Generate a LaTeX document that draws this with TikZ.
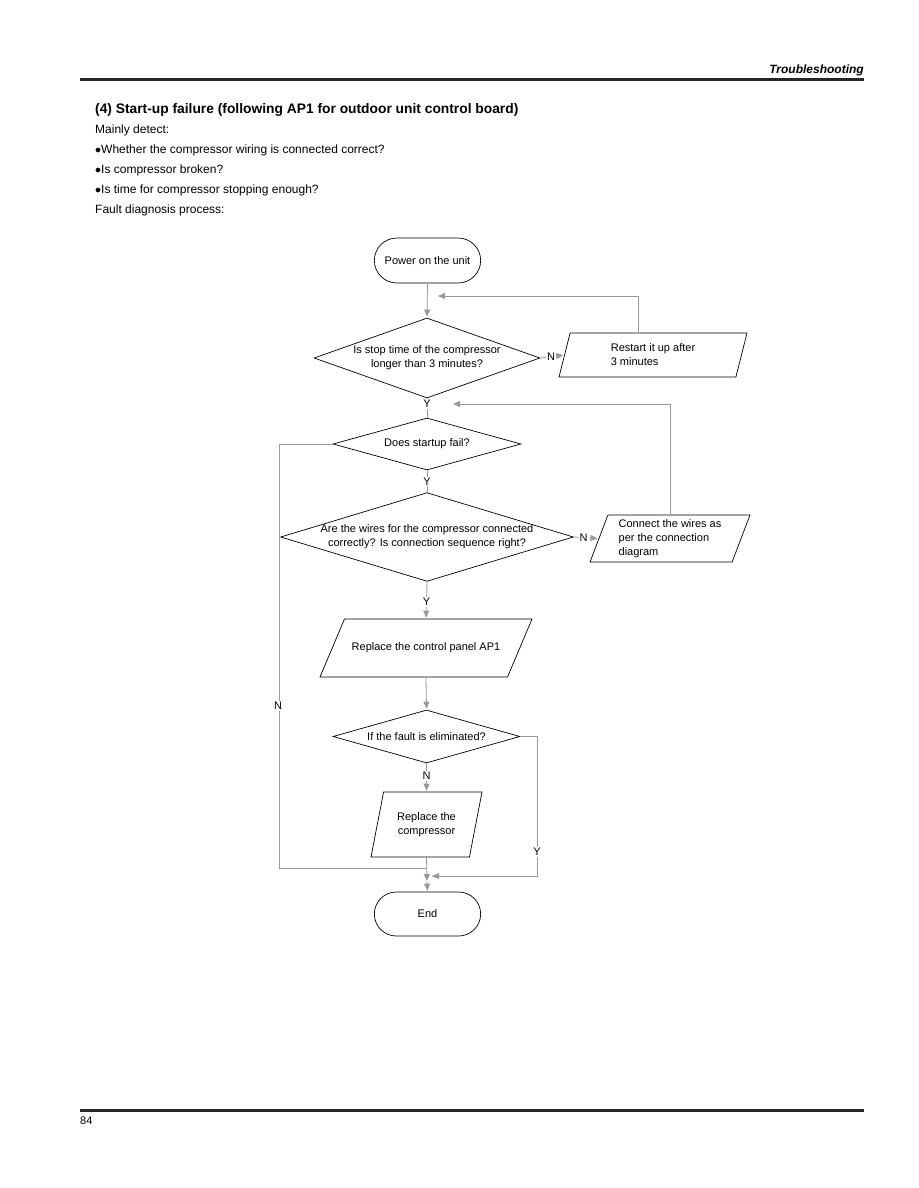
\documentclass[tikz,border=0pt]{standalone}
\usepackage{fontspec}
\setmainfont{Liberation Sans}
\usetikzlibrary{shapes.geometric,shapes.misc,arrows.meta,positioning}

\begin{document}
\begin{tikzpicture}[
		x=1pt, y=-1pt,
		line/.style={draw=gray!80, line width=0.8pt},
		arr/.style={line, -{Triangle[length=7pt,width=6pt]}, shorten >=1pt},
		terminal/.style={rounded rectangle, draw, line width=0.7pt, minimum width=113pt, minimum height=45pt, font=\fontsize{11}{13}\selectfont},
		decision/.style={diamond, draw, line width=0.7pt, inner sep=0pt, align=center, font=\fontsize{11}{14}\selectfont},
		iobox/.style={trapezium, draw, line width=0.7pt, trapezium stretches body=true, align=left, inner xsep=0pt, font=\fontsize{11}{14}\selectfont},
		yn/.style={fill=white, inner sep=1pt, font=\fontsize{11}{13}\selectfont},
		bodytext/.style={anchor=west, inner sep=0pt, font=\fontsize{12}{14}\selectfont},
	]
		\useasboundingbox (0,0) rectangle (918,1188);

		% page header and footer
		\node [anchor=east, inner sep=0pt, font=\fontsize{12}{14}\selectfont\bfseries\itshape] (head) at (864,70) {Troubleshooting};
		\draw [line width=3pt, black!85] (80,80) -- (864,80);
		\draw [line width=3pt, black!85] (80,1110) -- (864,1110);
		\node [bodytext, font=\fontsize{11}{13}\selectfont] (page) at (80,1121) {84};

		% intro text
		\node [bodytext, font=\fontsize{13.8}{16}\selectfont\bfseries] (title) at (95,110) {(4) Start-up failure (following AP1 for outdoor unit control board)};
		\node [bodytext] (t1) at (95,130) {Mainly detect:};
		\node [bodytext] (t2) at (95,150) {$\bullet$Whether the compressor wiring is connected correct?};
		\node [bodytext] (t3) at (95,170) {$\bullet$Is compressor broken?};
		\node [bodytext] (t4) at (95,190) {$\bullet$Is time for compressor stopping enough?};
		\node [bodytext] (t5) at (95,210) {Fault diagnosis process:};

		% flowchart
		\node [terminal] (start) at (427.5,260.5) {Power on the unit};
		\node [decision, aspect=2.8, minimum width=226pt, minimum height=80pt] (stoptime) at (427,358) {Is stop time of the compressor\\longer than 3 minutes?};
		\node [iobox, trapezium left angle=75, trapezium right angle=105, inner ysep=9.7pt, minimum width=188pt, minimum height=44pt] (restart) at (653,355) {Restart it up after\\3 minutes};
		\node [decision, aspect=3.6, minimum width=188pt, minimum height=52pt] (startfail) at (427,444) {Does startup fail?};
		\node [decision, aspect=3.3, minimum width=287pt, minimum height=87pt] (wires) at (427,537) {Are the wires for the compressor connected\\correctly? Is connection sequence right?};
		\node [iobox, trapezium left angle=69, trapezium right angle=111, inner ysep=4.2pt, minimum width=160pt, minimum height=47pt] (connect) at (670,538.5) {Connect the wires as\\per the connection\\diagram};
		\node [iobox, trapezium left angle=67, trapezium right angle=113, inner ysep=23.7pt, minimum width=212pt, minimum height=58pt, align=center] (panel) at (426,648) {Replace the control panel AP1};
		\node [decision, aspect=3.5, minimum width=187pt, minimum height=53pt] (eliminated) at (426.5,736.5) {If the fault is eliminated?};
		\node [iobox, trapezium left angle=79, trapezium right angle=101, inner ysep=20.2pt, minimum width=111pt, minimum height=65pt, align=center] (compressor) at (426.5,824.5) {Replace the\\compressor};
		\node [terminal, minimum height=44pt] (end) at (427.5,914) {End};

		\coordinate (join1) at (437,296);
		\coordinate (join2) at (452,404);
		\coordinate (leftbend) at (279,444);
		\coordinate (leftfoot) at (279,868);
		\coordinate (rightbend) at (537,736.5);
		\coordinate (rightfoot) at (537,876);
		\coordinate (merge) at (427,876);

		\draw [arr] (start.south) -- (stoptime.north);
		\draw [arr] (stoptime.east) -- node [yn, pos=0.45] {N} (restart.west);
		\draw [arr] ([xshift=-15pt]restart.north) |- (join1);
		\draw [line] (stoptime.south) -- node [yn, pos=0.3] {Y} (startfail.north);
		\draw [arr] (connect.north) |- (join2);
		\draw [line] (startfail.west) -- (leftbend) -- (leftfoot) -- (leftfoot -| merge);
		\node [yn] (nleft) at (278,706) {N};
		\draw [line] (startfail.south) -- node [yn] {Y} (wires.north);
		\draw [arr] (wires.east) -- node [yn, pos=0.4] {N} (connect.west);
		\draw [arr] (wires.south) -- node [yn, pos=0.55] {Y} (panel.north);
		\draw [arr] (panel.south) -- (eliminated.north);
		\draw [arr] (eliminated.south) -- node [yn, pos=0.45] {N} (compressor.north);
		\draw [line] (eliminated.east) -- (rightbend) -- (rightfoot) -- ([xshift=5pt]merge);
		\draw [arr] ([xshift=5pt]merge) -- +(-1,0);
		\node [yn] (yright) at (537,852) {Y};
		\draw [arr] (compressor.south) -- ([yshift=-6pt]merge);
		\draw [arr] ([yshift=-6pt]merge) -- (end.north);
\end{tikzpicture}
\end{document}
